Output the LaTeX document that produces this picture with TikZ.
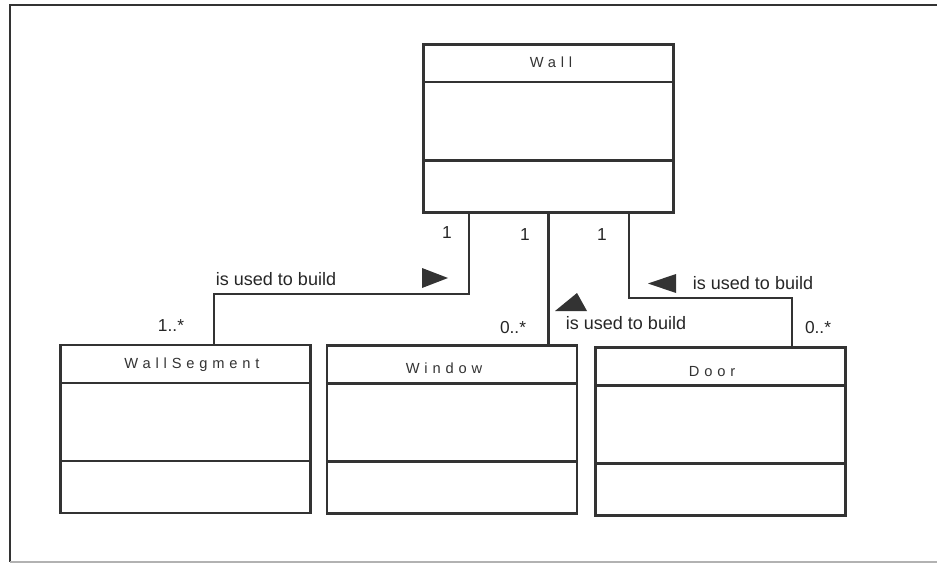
\documentclass[tikz,border=0pt]{standalone}
\usepackage{fontspec}
\setmainfont{Liberation Sans}
\newfontfamily\classfont[LetterSpace=33]{Liberation Sans}
\begin{document}
\begin{tikzpicture}
[x=0.75pt,y=-0.75pt,line width=1.8pt,color=black!80,
  classdecorate/.style={shape=rectangle,draw,minimum width=187.5pt,minimum height=126pt,inner sep=0pt},%
  namedecorate/.style={font=\classfont\fontsize{11}{13}\selectfont,inner sep=0pt},%
  labeldecorate/.style={font=\fontsize{13.5}{16}\selectfont,inner sep=0pt,text=black!85},%
  multdecorate/.style={font=\fontsize{13}{15}\selectfont,inner sep=0pt,text=black!85}]
\useasboundingbox (0,0) rectangle (937,563);
% frame
\coordinate (ftl) at (10,5);
\coordinate (ftr) at (937,5);
\coordinate (fbl) at (10,562);
\coordinate (fbr) at (937,562);
\draw[line width=1.3pt] (ftr) -- (ftl) -- (fbl);
\draw[line width=0.8pt,black!30] (fbl) -- (fbr);
% classes
\node (wall) at (548.5,128.5) [classdecorate] {};
\node (wallname) at (551,62) [namedecorate] {Wall};
\node (seg) at (185.5,429) [classdecorate] {};
\node (segname) at (192,365) [namedecorate] {WallSegment};
\node (win) at (452,429.5) [classdecorate] {};
\node (winname) at (444,368) [namedecorate] {Window};
\node (door) at (720.5,431.5) [classdecorate] {};
\node (doorname) at (712,372) [namedecorate] {Door};
% compartments
\foreach \c in {wall,seg,win,door}{
  \draw ([yshift=-29.25pt]\c.north west) -- ([yshift=-29.25pt]\c.north east);
  \draw ([yshift=-87.75pt]\c.north west) -- ([yshift=-87.75pt]\c.north east);
}
% associations
\coordinate (k1) at (469,294);
\coordinate (k2) at (214,294);
\coordinate (k3) at (629,298);
\coordinate (k4) at (792,298);
\draw (k1 |- wall.south) -- (k1) -- (k2) -- (k2 |- seg.north);
\draw (wall.south) -- (wall.south |- win.north);
\draw (k3 |- wall.south) -- (k3) -- (k4) -- (k4 |- door.north);
% reading direction marks
\fill (422,268) -- (448,278) -- (422,288) -- cycle;
\fill (555,311) -- (577,293) -- (587,311) -- cycle;
\fill (676,274) -- (648,283.5) -- (676,293) -- cycle;
% labels
\node (use1) at (276,279) [labeldecorate] {is used to build};
\node (use2) at (626,323) [labeldecorate] {is used to build};
\node (use3) at (753,283) [labeldecorate] {is used to build};
\node (m1) at (447,233) [multdecorate] {1};
\node (m2) at (525,235) [multdecorate] {1};
\node (m3) at (602,235) [multdecorate] {1};
\node (m4) at (171,326) [multdecorate] {1..*};
\node (m5) at (513,328) [multdecorate] {0..*};
\node (m6) at (818,328) [multdecorate] {0..*};
\end{tikzpicture}
\end{document}
